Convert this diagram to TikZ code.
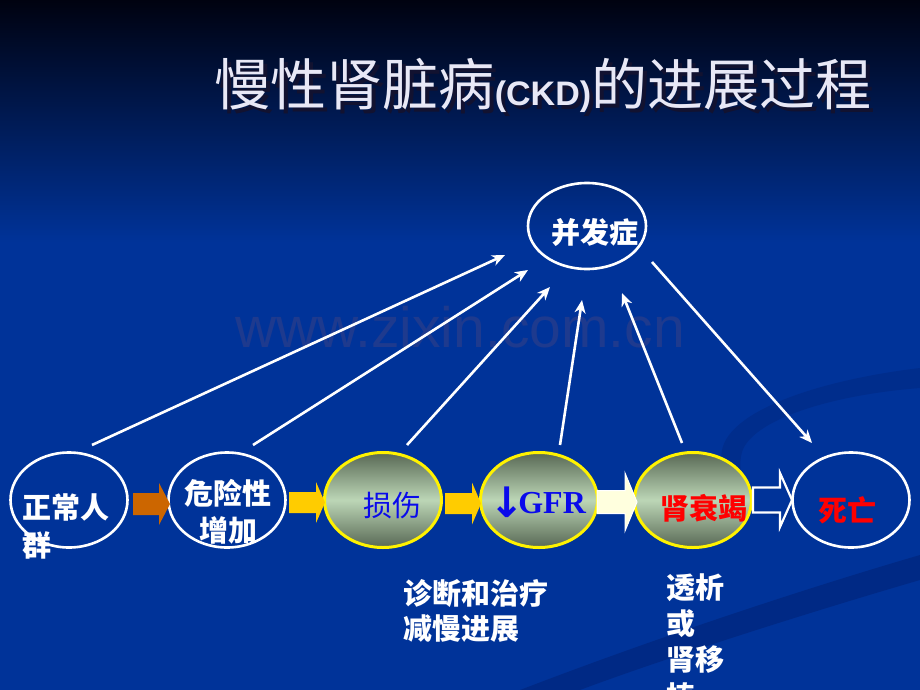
\documentclass[tikz,border=0pt]{standalone}
\usepackage{fontspec}
\newfontfamily\cjk{Noto Sans CJK SC}
\newfontfamily\arialf{Liberation Sans}
\newfontfamily\serifF{Liberation Serif}
\newfontfamily\dejaS{DejaVu Sans}
\usetikzlibrary{shapes.geometric,arrows.meta}
\definecolor{bgtop}{RGB}{0,2,16}
\definecolor{bgblue}{RGB}{0,51,153}
\definecolor{swoosh}{RGB}{0,38,125}
\definecolor{wmark}{RGB}{30,58,142}
\definecolor{gdark}{RGB}{88,104,84}
\definecolor{glight}{RGB}{188,214,182}
\definecolor{titlec}{RGB}{232,232,246}
\definecolor{shadowc}{RGB}{18,18,48}
\definecolor{brownar}{RGB}{204,102,0}
\definecolor{yellar}{RGB}{255,204,0}
\definecolor{paleyel}{RGB}{255,255,222}
\definecolor{txtblue}{RGB}{10,10,235}
\newcommand\blockarrow[7]{%
  \path[#1] (#2,{#5-#6}) -- (#3,{#5-#6}) -- (#3,{#5-#7}) -- (#4,#5)
    -- (#3,{#5+#7}) -- (#3,{#5+#6}) -- (#2,{#5+#6}) -- cycle;}
\begin{document}
\begin{tikzpicture}[x=1pt,y=-1pt,
  ell/.style={ellipse, minimum width=117pt, minimum height=95pt, inner sep=0pt},
  whiteell/.style={ell, draw=white, line width=2.6pt},
  yell/.style={ell, draw=yellow, line width=3pt, top color=gdark, bottom color=gdark, middle color=glight},
  link/.style={draw=white, line width=2.6pt, -{Stealth[length=13pt,width=11pt,inset=4pt]}},
  lbl/.style={font=\cjk\bfseries\fontsize{29}{34}\selectfont, inner sep=0pt, text=white},
]
\useasboundingbox (0,0) rectangle (920,690);
\clip (0,0) rectangle (920,690);
% background
\fill[bgblue] (0,240) rectangle (920,690);
\shade[top color=bgtop, bottom color=bgblue] (0,0) rectangle (920,242);
% decorative swooshes
\fill[swoosh, opacity=0.7] (520,690) .. controls (650,640) and (800,590) .. (920,555)
  -- (920,580) .. controls (800,615) and (660,660) .. (580,690) -- cycle;
\fill[swoosh, opacity=0.45] (920,368) .. controls (820,380) and (730,410) .. (722,450)
  .. controls (716,480) and (740,510) .. (790,520)
  -- (790,510) .. controls (750,500) and (735,478) .. (742,452)
  .. controls (752,420) and (830,395) .. (920,388) -- cycle;
% watermark
\node[font=\arialf\fontsize{57}{57}\selectfont, text=wmark, inner sep=0pt] (wm) at (460,327) {www.zixin.com.cn};
% title with shadow
\node[font=\cjk\fontsize{56}{56}\selectfont, text=shadowc, inner sep=0pt] (titleshadow) at (547,89)
  {慢性肾脏病{\arialf\bfseries\fontsize{34}{34}\selectfont(CKD)}的进展过程};
\node[font=\cjk\fontsize{56}{56}\selectfont, text=titlec, inner sep=0pt] (title) at (543,85)
  {慢性肾脏病{\arialf\bfseries\fontsize{34}{34}\selectfont(CKD)}的进展过程};
% ellipses
\node[whiteell, minimum height=86pt, minimum width=118pt] (comp) at (587,226) {};
\node[whiteell] (n1) at (69,500) {};
\node[whiteell] (n2) at (227,500) {};
\node[yell] (n3) at (383,500) {};
\node[yell] (n4) at (539,500) {};
\node[yell] (n5) at (693,500) {};
\node[whiteell] (n6) at (851,500) {};
% labels
\node[lbl] (tcomp) at (595,232) {并发症};
\node[lbl, anchor=west] (t1a) at (22,507) {正常人};
\node[lbl, anchor=west] (t1b) at (22,545) {群};
\node[lbl] (t2a) at (228,493) {危险性};
\node[lbl] (t2b) at (228,530) {增加};
\node[lbl, text=txtblue, font=\cjk\fontsize{29}{34}\selectfont] (t3) at (392,506) {损伤};
\node[font=\serifF\bfseries\fontsize{32}{32}\selectfont, text=txtblue, inner sep=0pt] (t4) at (539,502)
  {\raisebox{-4pt}{\dejaS\fontsize{42}{42}\selectfont\kern-3pt↓}\kern-6pt GFR};
\node[lbl, text=red] (t5) at (704,508) {肾衰竭};
\node[lbl, text=red] (t6) at (847,510) {死亡};
\node[lbl, anchor=west] (d1) at (403,594) {诊断和治疗};
\node[lbl, anchor=west] (d2) at (403,629) {减慢进展};
\node[lbl, anchor=west] (r1) at (666,588) {透析};
\node[lbl, anchor=west] (r2) at (666,624) {或};
\node[lbl, anchor=west] (r3) at (666,660) {肾移};
\node[lbl, anchor=west] (r4) at (666,696) {植};
% block arrows
\blockarrow{fill=brownar}{133}{159}{170}{504}{11}{21}
\blockarrow{fill=yellar}{289}{316}{325}{502.5}{10.5}{20.5}
\blockarrow{fill=yellar}{445}{472}{481}{503.5}{10.5}{21}
\blockarrow{fill=paleyel, draw=white, line width=1pt}{597}{625}{637}{502}{11.5}{29}
\blockarrow{fill=bgblue, draw=white, line width=2.2pt}{753}{780}{792}{500}{12.5}{27}
% connector end points
\coordinate (s1) at (92,445);  \coordinate (e1) at (505,255);
\coordinate (s2) at (253,445); \coordinate (e2) at (528,270);
\coordinate (s3) at (407,445); \coordinate (e3) at (550,287);
\coordinate (s4) at (560,445); \coordinate (e4) at (582,300);
\coordinate (s5) at (682,443); \coordinate (e5) at (622,293);
\coordinate (s6) at (652,262); \coordinate (e6) at (812,443);
\draw[link] (s1) -- (e1);
\draw[link] (s2) -- (e2);
\draw[link] (s3) -- (e3);
\draw[link] (s4) -- (e4);
\draw[link] (s5) -- (e5);
\draw[link] (s6) -- (e6);
\end{tikzpicture}
\end{document}
